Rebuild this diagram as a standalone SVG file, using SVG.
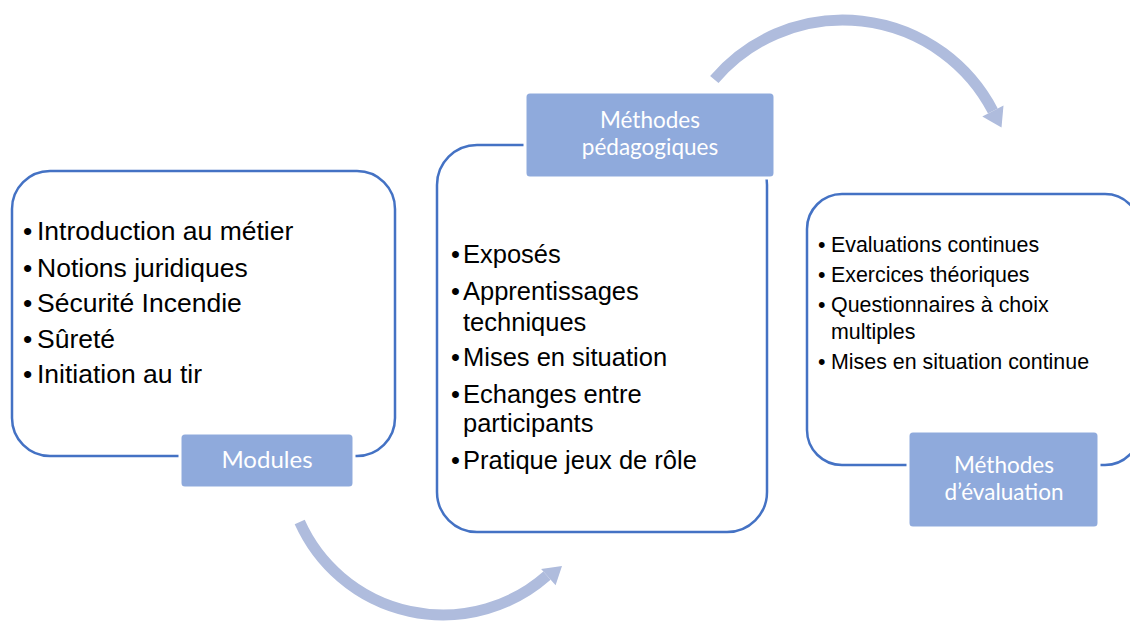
<svg xmlns="http://www.w3.org/2000/svg" width="1130" height="622" viewBox="0 0 1130 622">
<style>
.box{fill:#ffffff;stroke:#4472C4;stroke-width:2.5}
.lbl{fill:#8FAADC;stroke:#ffffff;stroke-width:3}
.lt{font-family:Lato,"Open Sans",sans-serif;fill:#ffffff;text-anchor:middle}
.bt{font-family:"Liberation Sans",Arial,sans-serif;fill:#000000}
.arc{fill:none;stroke:#AFBCDD;stroke-width:11}
.head{fill:#AFBCDD}
</style>
<rect width="1130" height="622" fill="#ffffff"/>
<g id="connectors">
<path class="arc" d="M299.7,522.1 A157,157 0 0 0 547,575.6"/>
<polygon class="head" points="541.1,568.9 555.6,585.3 562,566"/>
<path class="arc" d="M714.3,79.5 A169,169 0 0 1 992.9,111"/>
<polygon class="head" points="982.3,116.5 1003.5,105.4 1001.5,127.5"/>
</g>
<g id="node-modules">
<rect class="box" x="12" y="171" width="383" height="285" rx="38"/>
<g class="bt" font-size="26.5">
<text x="23" y="240">•</text><text x="37" y="240">Introduction au métier</text>
<text x="23" y="277">•</text><text x="37" y="277">Notions juridiques</text>
<text x="23" y="312">•</text><text x="37" y="312">Sécurité Incendie</text>
<text x="23" y="348">•</text><text x="37" y="348">Sûreté</text>
<text x="23" y="383">•</text><text x="37" y="383">Initiation au tir</text>
</g>
<rect class="lbl" x="180" y="433" width="174" height="55" rx="5"/>
<text class="lt" x="267" y="468" font-size="24">Modules</text>
</g>
<g id="node-pedagogie">
<rect class="box" x="437" y="145" width="330" height="387" rx="40"/>
<g class="bt" font-size="25.5">
<text x="451" y="263">•</text><text x="463" y="263">Exposés</text>
<text x="451" y="300">•</text><text x="463" y="300">Apprentissages</text>
<text x="463" y="331">techniques</text>
<text x="451" y="366">•</text><text x="463" y="366">Mises en situation</text>
<text x="451" y="403">•</text><text x="463" y="403">Echanges entre</text>
<text x="463" y="432">participants</text>
<text x="451" y="469">•</text><text x="463" y="469">Pratique jeux de rôle</text>
</g>
<rect class="lbl" x="525" y="92" width="250" height="86" rx="5"/>
<text class="lt" x="650" y="128" font-size="22.5">Méthodes</text>
<text class="lt" x="650" y="155" font-size="22.5">pédagogiques</text>
</g>
<g id="node-evaluation">
<rect class="box" x="807" y="194" width="333" height="271" rx="35"/>
<g class="bt" font-size="21.4">
<text x="818" y="252">•</text><text x="831" y="252">Evaluations continues</text>
<text x="818" y="282">•</text><text x="831" y="282">Exercices théoriques</text>
<text x="818" y="312">•</text><text x="831" y="312">Questionnaires à choix</text>
<text x="831" y="339">multiples</text>
<text x="818" y="369">•</text><text x="831" y="369">Mises en situation continue</text>
</g>
<rect class="lbl" x="908" y="431" width="191" height="97" rx="5"/>
<text class="lt" x="1004" y="473" font-size="22.5">Méthodes</text>
<text class="lt" x="1004" y="500" font-size="22.5">d’évaluation</text>
</g>
</svg>
